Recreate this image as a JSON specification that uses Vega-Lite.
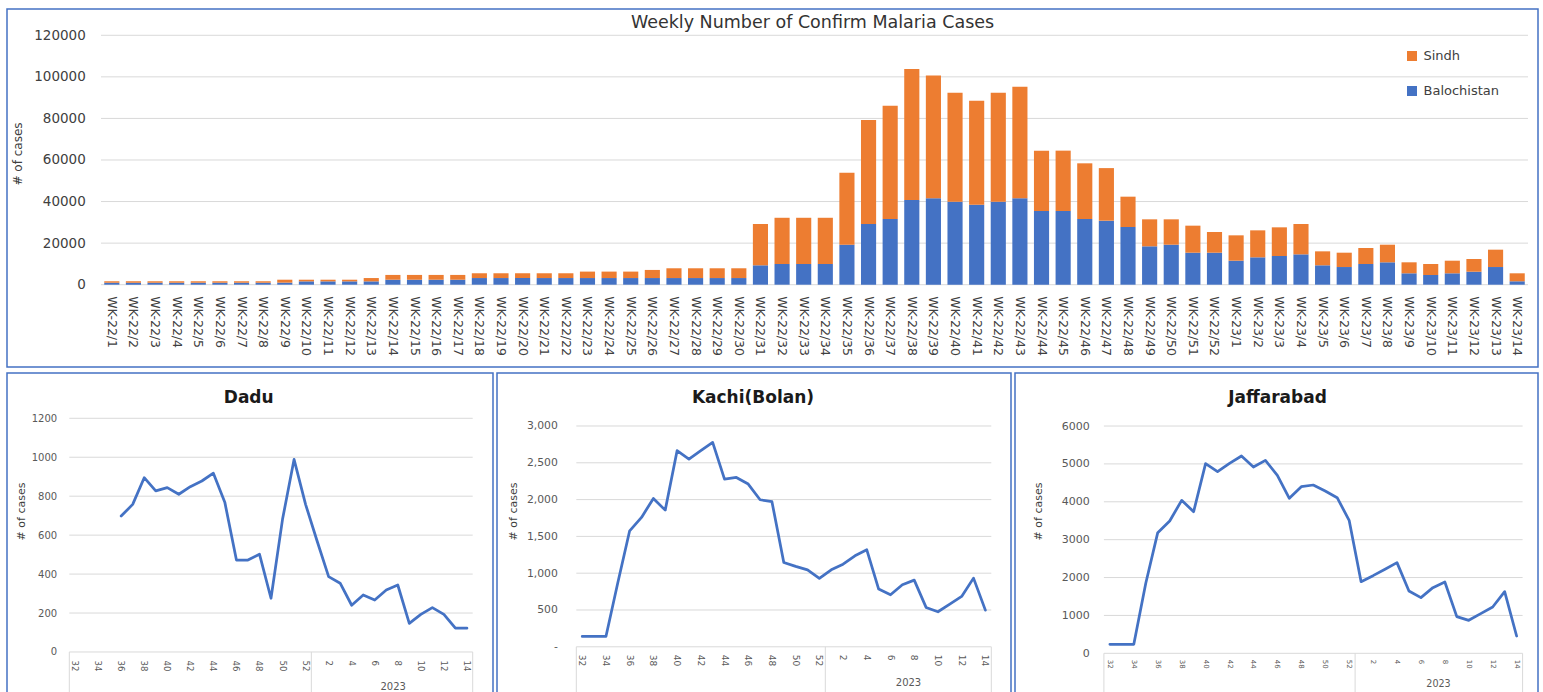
{
  "$schema": "https://vega.github.io/schema/vega-lite/v6.json",
  "background": "white",
  "padding": {"left": 6, "top": 8, "right": 0, "bottom": 0},
  "config": {"font": "DejaVu Sans", "view": {"stroke": "#4472C4", "strokeWidth": 1.5}},
  "bounds": "flush",
  "spacing": 6,
  "vconcat": [
    {
      "width": 1531, "height": 358,
      "title": {"text": "Weekly Number of Confirm Malaria Cases", "anchor": "middle", "frame": "group", "offset": -22, "dx": 40, "fontSize": 17.5, "fontWeight": "normal", "color": "#333333"},
      "layer": [
        {
          "data": {"values": [{"g": 0}, {"g": 20000}, {"g": 40000}, {"g": 60000}, {"g": 80000}, {"g": 100000}, {"g": 120000}]},
          "mark": {"type": "rule", "color": "#d9d9d9", "strokeWidth": 1},
          "encoding": {
            "y": {"field": "g", "type": "quantitative", "title": "# of cases"},
            "x": {"datum": "WK-22/1", "type": "ordinal", "bandPosition": -0.214},
            "x2": {"datum": "WK-23/14", "bandPosition": 1.214}
          }
        },
        {
          "data": {"values": [
            {"w":"WK-22/1","p":"Balochistan","n":950},{"w":"WK-22/1","p":"Sindh","n":700},
            {"w":"WK-22/2","p":"Balochistan","n":950},{"w":"WK-22/2","p":"Sindh","n":700},
            {"w":"WK-22/3","p":"Balochistan","n":950},{"w":"WK-22/3","p":"Sindh","n":700},
            {"w":"WK-22/4","p":"Balochistan","n":950},{"w":"WK-22/4","p":"Sindh","n":700},
            {"w":"WK-22/5","p":"Balochistan","n":950},{"w":"WK-22/5","p":"Sindh","n":700},
            {"w":"WK-22/6","p":"Balochistan","n":950},{"w":"WK-22/6","p":"Sindh","n":700},
            {"w":"WK-22/7","p":"Balochistan","n":950},{"w":"WK-22/7","p":"Sindh","n":700},
            {"w":"WK-22/8","p":"Balochistan","n":950},{"w":"WK-22/8","p":"Sindh","n":700},
            {"w":"WK-22/9","p":"Balochistan","n":1000},{"w":"WK-22/9","p":"Sindh","n":1400},
            {"w":"WK-22/10","p":"Balochistan","n":1600},{"w":"WK-22/10","p":"Sindh","n":800},
            {"w":"WK-22/11","p":"Balochistan","n":1600},{"w":"WK-22/11","p":"Sindh","n":800},
            {"w":"WK-22/12","p":"Balochistan","n":1600},{"w":"WK-22/12","p":"Sindh","n":800},
            {"w":"WK-22/13","p":"Balochistan","n":1600},{"w":"WK-22/13","p":"Sindh","n":1600},
            {"w":"WK-22/14","p":"Balochistan","n":2400},{"w":"WK-22/14","p":"Sindh","n":2300},
            {"w":"WK-22/15","p":"Balochistan","n":2400},{"w":"WK-22/15","p":"Sindh","n":2300},
            {"w":"WK-22/16","p":"Balochistan","n":2400},{"w":"WK-22/16","p":"Sindh","n":2300},
            {"w":"WK-22/17","p":"Balochistan","n":2400},{"w":"WK-22/17","p":"Sindh","n":2300},
            {"w":"WK-22/18","p":"Balochistan","n":3200},{"w":"WK-22/18","p":"Sindh","n":2300},
            {"w":"WK-22/19","p":"Balochistan","n":3200},{"w":"WK-22/19","p":"Sindh","n":2300},
            {"w":"WK-22/20","p":"Balochistan","n":3200},{"w":"WK-22/20","p":"Sindh","n":2300},
            {"w":"WK-22/21","p":"Balochistan","n":3200},{"w":"WK-22/21","p":"Sindh","n":2300},
            {"w":"WK-22/22","p":"Balochistan","n":3200},{"w":"WK-22/22","p":"Sindh","n":2300},
            {"w":"WK-22/23","p":"Balochistan","n":3200},{"w":"WK-22/23","p":"Sindh","n":3100},
            {"w":"WK-22/24","p":"Balochistan","n":3200},{"w":"WK-22/24","p":"Sindh","n":3100},
            {"w":"WK-22/25","p":"Balochistan","n":3200},{"w":"WK-22/25","p":"Sindh","n":3100},
            {"w":"WK-22/26","p":"Balochistan","n":3200},{"w":"WK-22/26","p":"Sindh","n":3900},
            {"w":"WK-22/27","p":"Balochistan","n":3200},{"w":"WK-22/27","p":"Sindh","n":4700},
            {"w":"WK-22/28","p":"Balochistan","n":3200},{"w":"WK-22/28","p":"Sindh","n":4700},
            {"w":"WK-22/29","p":"Balochistan","n":3200},{"w":"WK-22/29","p":"Sindh","n":4700},
            {"w":"WK-22/30","p":"Balochistan","n":3200},{"w":"WK-22/30","p":"Sindh","n":4700},
            {"w":"WK-22/31","p":"Balochistan","n":9330},{"w":"WK-22/31","p":"Sindh","n":19870},
            {"w":"WK-22/32","p":"Balochistan","n":9950},{"w":"WK-22/32","p":"Sindh","n":22250},
            {"w":"WK-22/33","p":"Balochistan","n":9950},{"w":"WK-22/33","p":"Sindh","n":22250},
            {"w":"WK-22/34","p":"Balochistan","n":9950},{"w":"WK-22/34","p":"Sindh","n":22250},
            {"w":"WK-22/35","p":"Balochistan","n":19250},{"w":"WK-22/35","p":"Sindh","n":34650},
            {"w":"WK-22/36","p":"Balochistan","n":29200},{"w":"WK-22/36","p":"Sindh","n":50000},
            {"w":"WK-22/37","p":"Balochistan","n":31600},{"w":"WK-22/37","p":"Sindh","n":54500},
            {"w":"WK-22/38","p":"Balochistan","n":40750},{"w":"WK-22/38","p":"Sindh","n":63050},
            {"w":"WK-22/39","p":"Balochistan","n":41550},{"w":"WK-22/39","p":"Sindh","n":59150},
            {"w":"WK-22/40","p":"Balochistan","n":39950},{"w":"WK-22/40","p":"Sindh","n":52450},
            {"w":"WK-22/41","p":"Balochistan","n":38500},{"w":"WK-22/41","p":"Sindh","n":50000},
            {"w":"WK-22/42","p":"Balochistan","n":39950},{"w":"WK-22/42","p":"Sindh","n":52450},
            {"w":"WK-22/43","p":"Balochistan","n":41550},{"w":"WK-22/43","p":"Sindh","n":53750},
            {"w":"WK-22/44","p":"Balochistan","n":35450},{"w":"WK-22/44","p":"Sindh","n":29050},
            {"w":"WK-22/45","p":"Balochistan","n":35450},{"w":"WK-22/45","p":"Sindh","n":29050},
            {"w":"WK-22/46","p":"Balochistan","n":31600},{"w":"WK-22/46","p":"Sindh","n":26800},
            {"w":"WK-22/47","p":"Balochistan","n":30800},{"w":"WK-22/47","p":"Sindh","n":25300},
            {"w":"WK-22/48","p":"Balochistan","n":27750},{"w":"WK-22/48","p":"Sindh","n":14600},
            {"w":"WK-22/49","p":"Balochistan","n":18470},{"w":"WK-22/49","p":"Sindh","n":12980},
            {"w":"WK-22/50","p":"Balochistan","n":19250},{"w":"WK-22/50","p":"Sindh","n":12200},
            {"w":"WK-22/51","p":"Balochistan","n":15400},{"w":"WK-22/51","p":"Sindh","n":13000},
            {"w":"WK-22/52","p":"Balochistan","n":15400},{"w":"WK-22/52","p":"Sindh","n":9950},
            {"w":"WK-23/1","p":"Balochistan","n":11550},{"w":"WK-23/1","p":"Sindh","n":12200},
            {"w":"WK-23/2","p":"Balochistan","n":13170},{"w":"WK-23/2","p":"Sindh","n":12980},
            {"w":"WK-23/3","p":"Balochistan","n":13800},{"w":"WK-23/3","p":"Sindh","n":13800},
            {"w":"WK-23/4","p":"Balochistan","n":14600},{"w":"WK-23/4","p":"Sindh","n":14600},
            {"w":"WK-23/5","p":"Balochistan","n":9330},{"w":"WK-23/5","p":"Sindh","n":6720},
            {"w":"WK-23/6","p":"Balochistan","n":8500},{"w":"WK-23/6","p":"Sindh","n":6900},
            {"w":"WK-23/7","p":"Balochistan","n":9950},{"w":"WK-23/7","p":"Sindh","n":7700},
            {"w":"WK-23/8","p":"Balochistan","n":10770},{"w":"WK-23/8","p":"Sindh","n":8480},
            {"w":"WK-23/9","p":"Balochistan","n":5480},{"w":"WK-23/9","p":"Sindh","n":5290},
            {"w":"WK-23/10","p":"Balochistan","n":4670},{"w":"WK-23/10","p":"Sindh","n":5280},
            {"w":"WK-23/11","p":"Balochistan","n":5480},{"w":"WK-23/11","p":"Sindh","n":6070},
            {"w":"WK-23/12","p":"Balochistan","n":6250},{"w":"WK-23/12","p":"Sindh","n":6110},
            {"w":"WK-23/13","p":"Balochistan","n":8500},{"w":"WK-23/13","p":"Sindh","n":8350},
            {"w":"WK-23/14","p":"Balochistan","n":1640},{"w":"WK-23/14","p":"Sindh","n":3840}
          ]},
          "mark": {"type": "bar"},
          "encoding": {
            "x": {
              "field": "w", "type": "ordinal", "title": null,
              "scale": {"type": "band", "paddingInner": 0.3, "paddingOuter": 0.15, "range": [94, 1521], "domain": ["WK-22/1","WK-22/2","WK-22/3","WK-22/4","WK-22/5","WK-22/6","WK-22/7","WK-22/8","WK-22/9","WK-22/10","WK-22/11","WK-22/12","WK-22/13","WK-22/14","WK-22/15","WK-22/16","WK-22/17","WK-22/18","WK-22/19","WK-22/20","WK-22/21","WK-22/22","WK-22/23","WK-22/24","WK-22/25","WK-22/26","WK-22/27","WK-22/28","WK-22/29","WK-22/30","WK-22/31","WK-22/32","WK-22/33","WK-22/34","WK-22/35","WK-22/36","WK-22/37","WK-22/38","WK-22/39","WK-22/40","WK-22/41","WK-22/42","WK-22/43","WK-22/44","WK-22/45","WK-22/46","WK-22/47","WK-22/48","WK-22/49","WK-22/50","WK-22/51","WK-22/52","WK-23/1","WK-23/2","WK-23/3","WK-23/4","WK-23/5","WK-23/6","WK-23/7","WK-23/8","WK-23/9","WK-23/10","WK-23/11","WK-23/12","WK-23/13","WK-23/14"]},
              "axis": {"title": null, "offset": -82.3, "domain": false, "ticks": false, "tickSize": 0, "grid": false, "labelAngle": 90, "labelAlign": "left", "labelBaseline": "middle", "labelPadding": 11, "labelFontSize": 12.5, "labelColor": "#404040", "labelOverlap": false}
            },
            "y": {
              "field": "n", "type": "quantitative", "title": "# of cases", "stack": "zero",
              "scale": {"domain": [-39600, 132650], "nice": false, "zero": false},
              "axis": {"values": [0, 20000, 40000, 60000, 80000, 100000, 120000], "format": "d", "offset": -78.3, "domain": false, "ticks": false, "tickSize": 0, "grid": false, "labelPadding": 0, "labelFontSize": 13.5, "labelColor": "#404040", "titleX": -61.3, "titleY": 144.5, "titleAngle": 270, "titleBaseline": "bottom", "titleAlign": "center", "titleFontSize": 12, "titleFontWeight": "normal", "titleColor": "#404040"}
            },
            "color": {
              "field": "p", "type": "nominal",
              "scale": {"domain": ["Sindh", "Balochistan"], "range": ["#ED7D31", "#4472C4"]},
              "legend": {"title": null, "orient": "none", "legendX": 1398.5, "legendY": 40.5, "direction": "vertical", "symbolType": "square", "symbolSize": 100, "symbolStrokeWidth": 0, "labelFontSize": 13, "labelColor": "#404040", "rowPadding": 21, "labelOffset": 5}
            },
            "order": {"field": "p", "type": "ordinal", "sort": "ascending"}
          }
        }
      ]
    },
    {
      "bounds": "flush",
      "spacing": 4,
      "hconcat": [
        {
          "width": 486, "height": 330,
          "title": {"text": "Dadu", "anchor": "middle", "frame": "group", "offset": -34, "dx": -1.3, "fontSize": 17, "fontWeight": "bold", "color": "#1a1a1a"},
          "layer": [
            {
              "data": {"values": [{"g": 0}, {"g": 200}, {"g": 400}, {"g": 600}, {"g": 800}, {"g": 1000}, {"g": 1200}]},
              "mark": {"type": "rule", "color": "#d9d9d9", "strokeWidth": 1},
              "encoding": {
                "y": {"field": "g", "type": "quantitative", "title": "# of cases"},
                "x": {"datum": "32", "type": "ordinal", "bandPosition": 0, "title": "2023"},
                "x2": {"datum": "14", "bandPosition": 1}
              }
            },
            {
              "data": {"values": [{"s": "32"}, {"s": "1"}]},
              "mark": {"type": "rule", "color": "#d9d9d9", "strokeWidth": 1},
              "encoding": {
                "x": {"field": "s", "type": "ordinal", "bandPosition": 0, "title": "2023"},
                "y": {"datum": 0, "type": "quantitative", "title": "# of cases"},
                "y2": {"datum": -262}
              }
            },
            {
              "data": {"values": [{"s": "14"}]},
              "mark": {"type": "rule", "color": "#d9d9d9", "strokeWidth": 1},
              "encoding": {
                "x": {"field": "s", "type": "ordinal", "bandPosition": 1, "title": "2023"},
                "y": {"datum": 0, "type": "quantitative", "title": "# of cases"},
                "y2": {"datum": -262}
              }
            },
            {
              "data": {"values": [
                {"w":"36","n":698},{"w":"37","n":758},{"w":"38","n":895},{"w":"39","n":827},{"w":"40","n":844},{"w":"41","n":810},{"w":"42","n":849},{"w":"43","n":878},{"w":"44","n":918},{"w":"45","n":767},{"w":"46","n":472},{"w":"47","n":472},{"w":"48","n":502},{"w":"49","n":276},{"w":"50","n":681},{"w":"51","n":989},{"w":"52","n":758},
                {"w":"1","n":570},{"w":"2","n":387},{"w":"3","n":353},{"w":"4","n":240},{"w":"5","n":293},{"w":"6","n":267},{"w":"7","n":318},{"w":"8","n":344},{"w":"9","n":147},{"w":"10","n":193},{"w":"11","n":228},{"w":"12","n":193},{"w":"13","n":122},{"w":"14","n":122}
              ]},
              "mark": {"type": "line", "color": "#4472C4", "strokeWidth": 2.75, "strokeJoin": "round", "strokeCap": "round"},
              "encoding": {
                "x": {
                  "field": "w", "type": "ordinal", "title": "2023",
                  "scale": {"type": "band", "paddingInner": 0, "paddingOuter": 0, "range": [62.3, 465.7], "domain": ["32","33","34","35","36","37","38","39","40","41","42","43","44","45","46","47","48","49","50","51","52","1","2","3","4","5","6","7","8","9","10","11","12","13","14"]},
                  "axis": {"values": ["32","34","36","38","40","42","44","46","48","50","52","2","4","6","8","10","12","14"], "title": "2023", "titleX": 385.7, "titleY": 34, "titleAlign": "center", "titleBaseline": "middle", "titleFontSize": 10, "titleFontWeight": "normal", "titleColor": "#595959", "offset": -51, "domain": false, "ticks": false, "tickSize": 0, "grid": false, "labelAngle": 90, "labelAlign": "left", "labelBaseline": "middle", "labelPadding": 8, "labelFontSize": 8.5, "labelColor": "#595959", "labelOverlap": false}
                },
                "y": {
                  "field": "n", "type": "quantitative", "title": "# of cases",
                  "scale": {"domain": [-262, 1432.6], "nice": false, "zero": false},
                  "axis": {"values": [0, 200, 400, 600, 800, 1000, 1200], "format": "d", "offset": -49.7, "domain": false, "ticks": false, "tickSize": 0, "grid": false, "labelPadding": 0, "labelFontSize": 10, "labelColor": "#595959", "titleX": -30.7, "titleY": 138, "titleAngle": 270, "titleBaseline": "bottom", "titleAlign": "center", "titleFontSize": 11, "titleFontWeight": "normal", "titleColor": "#404040"}
                }
              }
            }
          ]
        },
        {
          "width": 514, "height": 330,
          "title": {"text": "Kachi(Bolan)", "anchor": "middle", "frame": "group", "offset": -34, "dx": -1, "fontSize": 17, "fontWeight": "bold", "color": "#1a1a1a"},
          "layer": [
            {
              "data": {"values": [{"g": 0}, {"g": 500}, {"g": 1000}, {"g": 1500}, {"g": 2000}, {"g": 2500}, {"g": 3000}]},
              "mark": {"type": "rule", "color": "#d9d9d9", "strokeWidth": 1},
              "encoding": {
                "y": {"field": "g", "type": "quantitative", "title": "# of cases"},
                "x": {"datum": "32", "type": "ordinal", "bandPosition": 0, "title": "2023"},
                "x2": {"datum": "14", "bandPosition": 1}
              }
            },
            {
              "data": {"values": [{"s": "32"}, {"s": "1"}]},
              "mark": {"type": "rule", "color": "#d9d9d9", "strokeWidth": 1},
              "encoding": {
                "x": {"field": "s", "type": "ordinal", "bandPosition": 0, "title": "2023"},
                "y": {"datum": 0, "type": "quantitative", "title": "# of cases"},
                "y2": {"datum": -763.6}
              }
            },
            {
              "data": {"values": [{"s": "14"}]},
              "mark": {"type": "rule", "color": "#d9d9d9", "strokeWidth": 1},
              "encoding": {
                "x": {"field": "s", "type": "ordinal", "bandPosition": 1, "title": "2023"},
                "y": {"datum": 0, "type": "quantitative", "title": "# of cases"},
                "y2": {"datum": -763.6}
              }
            },
            {
              "data": {"values": [
                {"w":"32","n":140},{"w":"33","n":140},{"w":"34","n":140},{"w":"35","n":870},{"w":"36","n":1576},{"w":"37","n":1758},{"w":"38","n":2016},{"w":"39","n":1857},{"w":"40","n":2664},{"w":"41","n":2550},{"w":"42","n":2664},{"w":"43","n":2777},{"w":"44","n":2279},{"w":"45","n":2301},{"w":"46","n":2211},{"w":"47","n":1998},{"w":"48","n":1971},{"w":"49","n":1146},{"w":"50","n":1092},{"w":"51","n":1046},{"w":"52","n":929},
                {"w":"1","n":1046},{"w":"2","n":1123},{"w":"3","n":1237},{"w":"4","n":1318},{"w":"5","n":784},{"w":"6","n":707},{"w":"7","n":843},{"w":"8","n":906},{"w":"9","n":535},{"w":"10","n":476},{"w":"11","n":580},{"w":"12","n":684},{"w":"13","n":933},{"w":"14","n":498}
              ]},
              "mark": {"type": "line", "color": "#4472C4", "strokeWidth": 2.75, "strokeJoin": "round", "strokeCap": "round"},
              "encoding": {
                "x": {
                  "field": "w", "type": "ordinal", "title": "2023",
                  "scale": {"type": "band", "paddingInner": 0, "paddingOuter": 0, "range": [79.3, 494.3], "domain": ["32","33","34","35","36","37","38","39","40","41","42","43","44","45","46","47","48","49","50","51","52","1","2","3","4","5","6","7","8","9","10","11","12","13","14"]},
                  "axis": {"values": ["32","34","36","38","40","42","44","46","48","50","52","2","4","6","8","10","12","14"], "title": "2023", "titleX": 411, "titleY": 35.9, "titleAlign": "center", "titleBaseline": "middle", "titleFontSize": 10, "titleFontWeight": "normal", "titleColor": "#595959", "offset": -56.2, "domain": false, "ticks": false, "tickSize": 0, "grid": false, "labelAngle": 90, "labelAlign": "left", "labelBaseline": "middle", "labelPadding": 7.5, "labelFontSize": 9, "labelColor": "#595959", "labelOverlap": false}
                },
                "y": {
                  "field": "n", "type": "quantitative", "title": "# of cases",
                  "scale": {"domain": [-763.6, 3720], "nice": false, "zero": false},
                  "axis": {"values": [0, 500, 1000, 1500, 2000, 2500, 3000], "labelExpr": "datum.value === 0 ? '-\u00a0\u00a0' : format(datum.value, ',')", "offset": -60.3, "domain": false, "ticks": false, "tickSize": 0, "grid": false, "labelPadding": 0, "labelFontSize": 10.8, "labelColor": "#595959", "titleX": -39.3, "titleY": 138, "titleAngle": 270, "titleBaseline": "bottom", "titleAlign": "center", "titleFontSize": 11, "titleFontWeight": "normal", "titleColor": "#404040"}
                }
              }
            }
          ]
        },
        {
          "width": 523, "height": 330,
          "title": {"text": "Jaffarabad", "anchor": "middle", "frame": "group", "offset": -34, "dx": 1, "fontSize": 17, "fontWeight": "bold", "color": "#1a1a1a"},
          "layer": [
            {
              "data": {"values": [{"g": 0}, {"g": 1000}, {"g": 2000}, {"g": 3000}, {"g": 4000}, {"g": 5000}, {"g": 6000}]},
              "mark": {"type": "rule", "color": "#d9d9d9", "strokeWidth": 1},
              "encoding": {
                "y": {"field": "g", "type": "quantitative", "title": "# of cases"},
                "x": {"datum": "32", "type": "ordinal", "bandPosition": 0, "title": "2023"},
                "x2": {"datum": "14", "bandPosition": 1}
              }
            },
            {
              "data": {"values": [{"s": "32"}, {"s": "1"}]},
              "mark": {"type": "rule", "color": "#d9d9d9", "strokeWidth": 1},
              "encoding": {
                "x": {"field": "s", "type": "ordinal", "bandPosition": 0, "title": "2023"},
                "y": {"datum": 0, "type": "quantitative", "title": "# of cases"},
                "y2": {"datum": -1312}
              }
            },
            {
              "data": {"values": [{"s": "14"}]},
              "mark": {"type": "rule", "color": "#d9d9d9", "strokeWidth": 1},
              "encoding": {
                "x": {"field": "s", "type": "ordinal", "bandPosition": 1, "title": "2023"},
                "y": {"datum": 0, "type": "quantitative", "title": "# of cases"},
                "y2": {"datum": -1312}
              }
            },
            {
              "data": {"values": [
                {"w":"32","n":238},{"w":"33","n":238},{"w":"34","n":238},{"w":"35","n":1850},{"w":"36","n":3185},{"w":"37","n":3492},{"w":"38","n":4038},{"w":"39","n":3739},{"w":"40","n":5006},{"w":"41","n":4794},{"w":"42","n":5014},{"w":"43","n":5208},{"w":"44","n":4918},{"w":"45","n":5094},{"w":"46","n":4698},{"w":"47","n":4091},{"w":"48","n":4399},{"w":"49","n":4443},{"w":"50","n":4284},{"w":"51","n":4108},{"w":"52","n":3510},
                {"w":"1","n":1891},{"w":"2","n":2050},{"w":"3","n":2220},{"w":"4","n":2393},{"w":"5","n":1645},{"w":"6","n":1469},{"w":"7","n":1733},{"w":"8","n":1883},{"w":"9","n":968},{"w":"10","n":871},{"w":"11","n":1047},{"w":"12","n":1223},{"w":"13","n":1627},{"w":"14","n":457}
              ]},
              "mark": {"type": "line", "color": "#4472C4", "strokeWidth": 2.75, "strokeJoin": "round", "strokeCap": "round"},
              "encoding": {
                "x": {
                  "field": "w", "type": "ordinal", "title": "2023",
                  "scale": {"type": "band", "paddingInner": 0, "paddingOuter": 0, "range": [88.9, 507.6], "domain": ["32","33","34","35","36","37","38","39","40","41","42","43","44","45","46","47","48","49","50","51","52","1","2","3","4","5","6","7","8","9","10","11","12","13","14"]},
                  "axis": {"values": ["32","34","36","38","40","42","44","46","48","50","52","2","4","6","8","10","12","14"], "title": "2023", "titleX": 423, "titleY": 30, "titleAlign": "center", "titleBaseline": "middle", "titleFontSize": 9.6, "titleFontWeight": "normal", "titleColor": "#595959", "offset": -49.7, "domain": false, "ticks": false, "tickSize": 0, "grid": false, "labelAngle": 90, "labelAlign": "left", "labelBaseline": "middle", "labelPadding": 6, "labelFontSize": 7, "labelColor": "#595959", "labelOverlap": false}
                },
                "y": {
                  "field": "n", "type": "quantitative", "title": "# of cases",
                  "scale": {"domain": [-1312, 7400], "nice": false, "zero": false},
                  "axis": {"values": [0, 1000, 2000, 3000, 4000, 5000, 6000], "format": "d", "offset": -74.3, "domain": false, "ticks": false, "tickSize": 0, "grid": false, "labelPadding": 0, "labelFontSize": 11, "labelColor": "#595959", "titleX": -45.5, "titleY": 138, "titleAngle": 270, "titleBaseline": "bottom", "titleAlign": "center", "titleFontSize": 11, "titleFontWeight": "normal", "titleColor": "#404040"}
                }
              }
            }
          ]
        }
      ]
    }
  ]
}
